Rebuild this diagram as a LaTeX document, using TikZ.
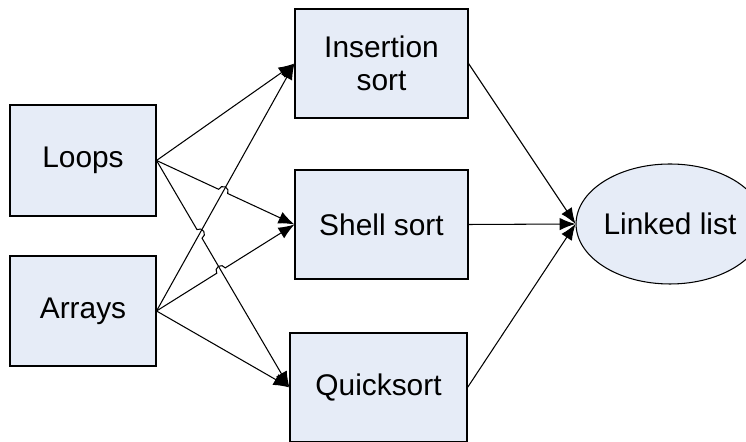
\documentclass[tikz,border=0pt]{standalone}
\usepackage{fontspec}
\setmainfont{Liberation Sans}
\usepackage{tikz}
\usetikzlibrary{shapes.geometric, arrows.meta, calc, intersections}
\definecolor{topicblue}{RGB}{230, 236, 247}

% radius of the little jump where two connectors cross
\newcommand{\hopsize}{0.1cm}
% arrow from #1 to #3 that jumps over the crossing point #2
\newcommand{\hopdraw}[3]{%
  \draw[arrow] let \p1=(#1), \p2=(#3), \n1={atan2(\y2-\y1,\x2-\x1)} in
    (#1) -- ($(#2)!\hopsize!(#1)$)
    arc[start angle=\n1+180, end angle=\n1, radius=\hopsize] -- (#3);
}

\begin{document}
\begin{tikzpicture}[
    every node/.style={font=\fontsize{17}{18.5}\selectfont},
    box/.style={rectangle, minimum height=2.18cm, text centered, align=center, draw=black, fill=topicblue, line width=0.6pt, inner sep=0pt},
    goal/.style={ellipse, minimum width=3.72cm, minimum height=2.4cm, draw=black, fill=topicblue, line width=0.6pt, inner sep=0pt},
    arrow/.style={-{Latex[length=3.2mm, width=2.5mm]}, line width=0.6pt}
]
\useasboundingbox (0,0) rectangle (14.92,8.84);

% what you need first
\node[box, minimum width=2.92cm, minimum height=2.22cm] (loops) at (1.66,5.63) {Loops};
\node[box, minimum width=2.92cm, minimum height=2.2cm] (arrays) at (1.66,2.62) {Arrays};

% the sorts
\node[box, minimum width=3.46cm] (insertion) at (7.63,7.57) {Insertion\\sort};
\node[box, minimum width=3.46cm] (shell) at (7.63,4.35) {Shell sort};
\node[box, minimum width=3.54cm] (quick) at (7.57,1.09) {Quicksort};

\node[goal] (linked) at (13.4,4.36) {Linked list};

% crossing points of the connectors
\path[name path=ai] (arrays.east) -- (insertion.west);
\path[name path=ls] (loops.east) -- (shell.west);
\path[name path=lq] (loops.east) -- (quick.west);
\path[name path=as] (arrays.east) -- (shell.west);
\path[name intersections={of=ai and ls, by=c1}];
\path[name intersections={of=ai and lq, by=c2}];
\path[name intersections={of=as and lq, by=c3}];

\draw[arrow] (loops.east) -- (insertion.west);
\draw[arrow] (arrays.east) -- (insertion.west);
\draw[arrow] (arrays.east) -- (quick.west);
\hopdraw{loops.east}{c1}{shell.west}
\hopdraw{loops.east}{c2}{quick.west}
\hopdraw{arrays.east}{c3}{shell.west}

\draw[arrow] (insertion.east) -- (linked.west);
\draw[arrow] (shell.east) -- (linked.west);
\draw[arrow] (quick.east) -- (linked.west);

\end{tikzpicture}
\end{document}
